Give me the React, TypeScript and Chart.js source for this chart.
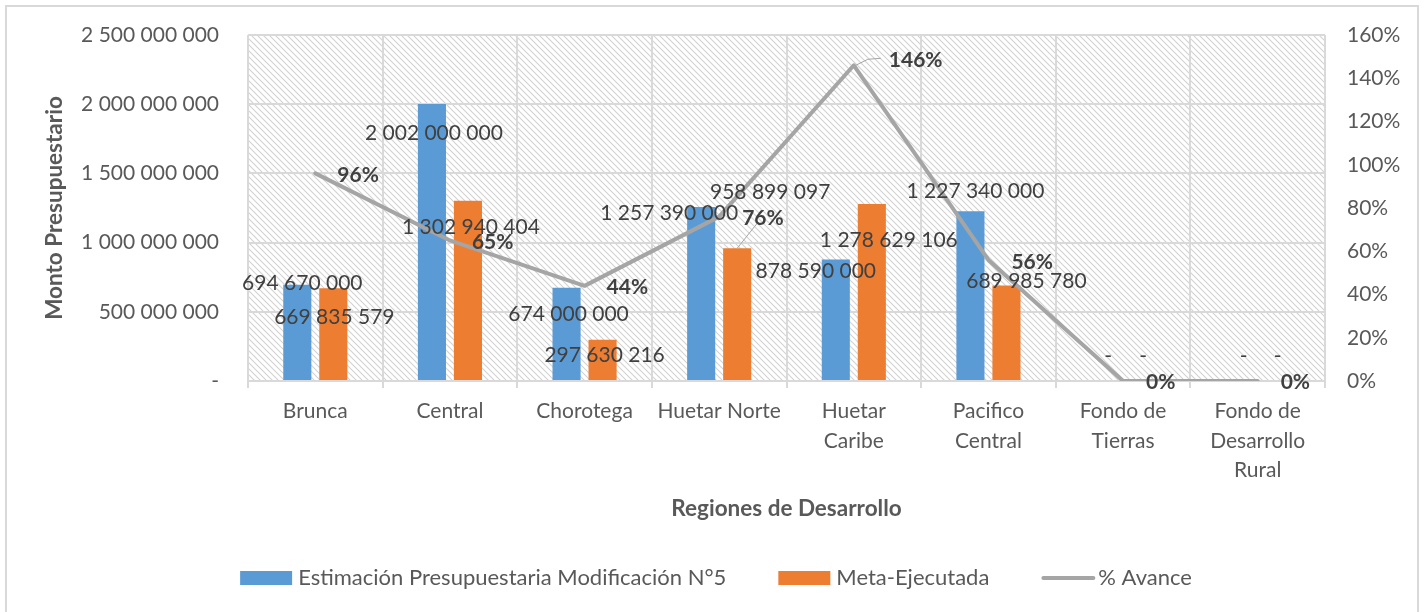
import React, { useEffect, useRef } from "react";
import { Chart, registerables } from "chart.js";

Chart.register(...registerables);

// ---------- data ----------
const categories: string[][] = [
  ["Brunca"],
  ["Central"],
  ["Chorotega"],
  ["Huetar Norte"],
  ["Huetar", "Caribe"],
  ["Pacifico", "Central"],
  ["Fondo de", "Tierras"],
  ["Fondo de", "Desarrollo", "Rural"],
];
const estimacion = [694670000, 2002000000, 674000000, 1257390000, 878590000, 1227340000, 0, 0];
const ejecutada = [669835579, 1302940404, 297630216, 958899097, 1278629106, 689985780, 0, 0];
const avance = [96, 65, 44, 76, 146, 56, 0, 0];

const seriesNames = ["Estimación Presupuestaria Modificación N°5", "Meta-Ejecutada", "% Avance"];
const leftAxis = { min: 0, max: 2500000000, step: 500000000 };
const rightAxis = { min: 0, max: 160, step: 20 };

// ---------- label layout (offsets relative to the mark) ----------
const estLabelOffset = [[5, -2], [2, 29], [2, 27], [-32, 6], [-20, 12], [5, -20], [3, -25], [4, -25]];
const ejeLabelOffset = [[1, 29], [3, 27], [2, 15], [33, -56], [17, 36], [20, -4], [2, -25], [2, -25]];
const pctLabelOffset = [[22, 2], [22, 2], [22, 1], [23, 2], [35, -5], [23, 2], [23, 1], [23, 1]];

const BLUE = "#5b9bd5";
const ORANGE = "#ed7d31";
const GRAY = "#a5a5a5";
const TEXT = "#595959";
const LABEL = "#404040";
const FONT = "Lato";

const fmt = (n: number) => (n === 0 ? "-" : String(Math.round(n)).replace(/\B(?=(\d{3})+(?!\d))/g, " "));

function makeHatch(): CanvasPattern | string {
  const c = document.createElement("canvas");
  c.width = 6;
  c.height = 6;
  const g = c.getContext("2d");
  if (!g) return "#fff";
  g.fillStyle = "#ffffff";
  g.fillRect(0, 0, 6, 6);
  g.strokeStyle = "#d2d2d2";
  g.lineWidth = 1.1;
  g.beginPath();
  g.moveTo(-1, -1);
  g.lineTo(7, 7);
  g.moveTo(-4, 2);
  g.lineTo(4, 10);
  g.moveTo(2, -4);
  g.lineTo(10, 4);
  g.stroke();
  const p = g.createPattern(c, "repeat");
  return p || "#fff";
}

const backgroundPlugin = {
  id: "bgHatch",
  beforeDraw(chart: any) {
    const { ctx, chartArea, width, height } = chart;
    ctx.save();
    ctx.fillStyle = "#ffffff";
    ctx.fillRect(0, 0, width, height);
    ctx.strokeStyle = "#d9d9d9";
    ctx.lineWidth = 2;
    ctx.strokeRect(6, 6, width - 12, height + 10);
    ctx.fillStyle = makeHatch();
    ctx.fillRect(chartArea.left, chartArea.top, chartArea.right - chartArea.left, chartArea.bottom - chartArea.top);
    ctx.restore();
  },
};

const labelsPlugin = {
  id: "dataLabels",
  afterDatasetsDraw(chart: any) {
    const ctx = chart.ctx;
    const m0 = chart.getDatasetMeta(0);
    const m1 = chart.getDatasetMeta(1);
    const m2 = chart.getDatasetMeta(2);
    ctx.save();
    // leader lines
    ctx.strokeStyle = "#a6a6a6";
    ctx.lineWidth = 1;
    const p146 = m2.data[4];
    ctx.beginPath();
    ctx.moveTo(p146.x, p146.y + 1);
    ctx.lineTo(p146.x + 14, p146.y - 6);
    ctx.lineTo(p146.x + 27, p146.y - 7);
    ctx.stroke();
    const bHN = m1.data[3];
    ctx.beginPath();
    ctx.moveTo(bHN.x, bHN.y);
    ctx.lineTo(bHN.x + 20, bHN.y - 25);
    ctx.stroke();

    ctx.font = `21px ${FONT}`;
    ctx.fillStyle = LABEL;
    ctx.textAlign = "center";
    ctx.textBaseline = "middle";
    m0.data.forEach((el: any, i: number) => {
      const [dx, dy] = estLabelOffset[i];
      ctx.fillText(fmt(estimacion[i]), el.x + dx, el.y + dy);
    });
    m1.data.forEach((el: any, i: number) => {
      const [dx, dy] = ejeLabelOffset[i];
      ctx.fillText(fmt(ejecutada[i]), el.x + dx, el.y + dy);
    });
    ctx.font = `bold 21px ${FONT}`;
    ctx.textAlign = "left";
    m2.data.forEach((el: any, i: number) => {
      const [dx, dy] = pctLabelOffset[i];
      ctx.fillText(`${avance[i]}%`, el.x + dx, el.y + dy);
    });
    ctx.restore();
  },
};

const legendPlugin = {
  id: "customLegend",
  afterDraw(chart: any) {
    const { ctx, width } = chart;
    ctx.save();
    ctx.font = `22px ${FONT}`;
    ctx.textBaseline = "middle";
    ctx.textAlign = "left";
    const y = 578;
    const colors = [BLUE, ORANGE, GRAY];
    const markW = [52, 52, 54];
    const markGap = [6, 6, 3];
    const itemGap = 52;
    const widths = seriesNames.map((s, i) => markW[i] + markGap[i] + ctx.measureText(s).width);
    const total = widths.reduce((a, b) => a + b, 0) + itemGap * (seriesNames.length - 1);
    let x = width / 2 + 4 - total / 2;
    seriesNames.forEach((s, i) => {
      if (i < 2) {
        ctx.fillStyle = colors[i];
        ctx.fillRect(x, y - 7, markW[i], 14);
      } else {
        ctx.strokeStyle = colors[i];
        ctx.lineWidth = 4;
        ctx.lineCap = "round";
        ctx.beginPath();
        ctx.moveTo(x + 2, y);
        ctx.lineTo(x + markW[i] - 2, y);
        ctx.stroke();
      }
      ctx.fillStyle = TEXT;
      ctx.fillText(s, x + markW[i] + markGap[i], y);
      x += widths[i] + itemGap;
    });
    ctx.restore();
  },
};

const noVerticalPadding = (s: any) => {
  s.paddingTop = 0;
  s.paddingBottom = 0;
};

export default function App() {
  const ref = useRef<HTMLCanvasElement | null>(null);
  useEffect(() => {
    if (!ref.current) return;
    const chart = new Chart(ref.current, {
      type: "bar",
      data: {
        labels: categories,
        datasets: [
          {
            type: "bar",
            label: seriesNames[0],
            data: estimacion,
            backgroundColor: BLUE,
            yAxisID: "y",
            order: 2,
            categoryPercentage: 0.535,
            barPercentage: 0.78,
          },
          {
            type: "bar",
            label: seriesNames[1],
            data: ejecutada,
            backgroundColor: ORANGE,
            yAxisID: "y",
            order: 2,
            categoryPercentage: 0.535,
            barPercentage: 0.78,
          },
          {
            type: "line",
            label: seriesNames[2],
            data: avance,
            borderColor: GRAY,
            backgroundColor: GRAY,
            borderWidth: 4,
            pointRadius: 0,
            tension: 0,
            yAxisID: "y1",
            order: 1,
            borderCapStyle: "round",
            borderJoinStyle: "round",
          } as any,
        ],
      },
      options: {
        responsive: false,
        animation: false,
        devicePixelRatio: 1,
        layout: { padding: { top: 35, left: 0, right: 0, bottom: 0 } },
        plugins: {
          legend: { display: false },
          tooltip: { enabled: false },
          title: { display: false },
        },
        scales: {
          x: {
            offset: true,
            grid: { color: "#d9d9d9", lineWidth: 2, offset: true, drawTicks: true, tickLength: 7, tickColor: "#d9d9d9" },
            border: { display: false },
            ticks: {
              color: TEXT,
              font: { family: FONT, size: 21, lineHeight: 1.4 },
              padding: 9,
              maxRotation: 0,
              autoSkip: false,
            },
            title: {
              display: true,
              text: "Regiones de Desarrollo",
              color: TEXT,
              font: { family: FONT, size: 22.5, weight: "bold" },
              padding: { top: 0, bottom: 90 },
            },
            afterFit: (s: any) => {
              s.height = 231;
            },
          },
          y: {
            position: "left",
            min: leftAxis.min,
            max: leftAxis.max,
            grid: { color: "#d9d9d9", lineWidth: 2, drawTicks: false },
            border: { display: false },
            ticks: {
              stepSize: leftAxis.step,
              color: TEXT,
              font: { family: FONT, size: 21 },
              padding: 29,
              callback: (v: any) => fmt(Number(v)),
            },
            title: {
              display: true,
              text: "Monto Presupuestario",
              color: TEXT,
              font: { family: FONT, size: 22.5, weight: "bold" },
              padding: { top: 41, bottom: 0 },
            },
            afterFit: (s: any) => {
              s.width = 248;
              noVerticalPadding(s);
            },
          },
          y1: {
            position: "right",
            min: rightAxis.min,
            max: rightAxis.max,
            grid: { drawOnChartArea: false, drawTicks: false },
            border: { display: false },
            ticks: {
              stepSize: rightAxis.step,
              color: TEXT,
              font: { family: FONT, size: 21 },
              padding: 22,
              callback: (v: any) => `${v}%`,
            },
            afterFit: (s: any) => {
              s.width = 99;
              noVerticalPadding(s);
            },
          },
        },
      } as any,
      plugins: [backgroundPlugin, labelsPlugin, legendPlugin],
    });
    return () => chart.destroy();
  }, []);
  return (
    <div style={{ position: "fixed", left: 0, top: 0, width: 1424, height: 612, background: "#fff" }}>
      <canvas ref={ref} width={1424} height={612} style={{ display: "block" }} />
    </div>
  );
}
